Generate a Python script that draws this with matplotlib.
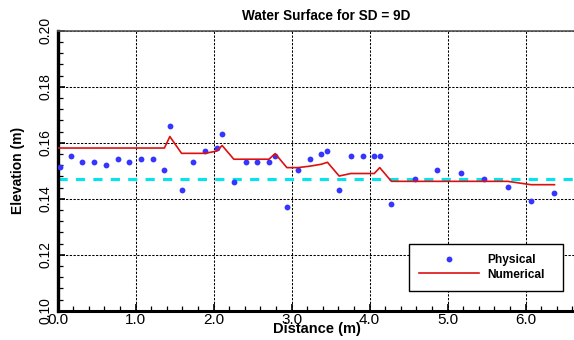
import matplotlib
matplotlib.use("Agg")
import matplotlib.pyplot as plt
from matplotlib.ticker import MultipleLocator, FormatStrFormatter

plt.rcParams['font.family'] = ['Liberation Sans', 'DejaVu Sans']

title = "Water Surface for SD = 9D"
xlabel = "Distance (m)"
ylabel = "Elevation (m)"

phys_x = [0.03, 0.17, 0.32, 0.47, 0.62, 0.77, 0.92, 1.07, 1.22, 1.37, 1.44, 1.59,
          1.74, 1.89, 2.04, 2.11, 2.26, 2.41, 2.56, 2.71, 2.79, 2.94, 3.08, 3.23,
          3.38, 3.46, 3.61, 3.76, 3.91, 4.06, 4.13, 4.28, 4.58, 4.87, 5.17, 5.47,
          5.77, 6.07, 6.37]
phys_y = [0.1512, 0.1551, 0.1532, 0.1532, 0.1521, 0.1541, 0.1532, 0.1541, 0.1541,
          0.1501, 0.1661, 0.1431, 0.1532, 0.1570, 0.1581, 0.1631, 0.1460, 0.1532,
          0.1532, 0.1532, 0.1551, 0.1370, 0.1501, 0.1541, 0.1561, 0.1570, 0.1431,
          0.1551, 0.1551, 0.1551, 0.1551, 0.1380, 0.1470, 0.1501, 0.1491, 0.1470,
          0.1441, 0.1392, 0.1421]

num_x = [0.0, 1.37, 1.44, 1.59, 1.74, 1.89, 2.04, 2.11, 2.26, 2.41, 2.56, 2.71,
         2.79, 2.94, 3.08, 3.23, 3.38, 3.46, 3.61, 3.76, 3.91, 4.06, 4.13, 4.28,
         4.58, 4.87, 5.17, 5.47, 5.77, 6.07, 6.37]
num_y = [0.1581, 0.1581, 0.1622, 0.1562, 0.1562, 0.1562, 0.1570, 0.1590, 0.1541,
         0.1541, 0.1541, 0.1541, 0.1561, 0.1511, 0.1511, 0.1516, 0.1523, 0.1530,
         0.1481, 0.1490, 0.1490, 0.1490, 0.1511, 0.1462, 0.1462, 0.1462, 0.1462,
         0.1462, 0.1462, 0.1450, 0.1450]

ref_level = 0.147

fig = plt.figure(figsize=(5.74, 3.40), dpi=100)
ax = fig.add_axes([57.5 / 574, 1 - 310.7 / 340, 1 - 57.5 / 574, 280 / 340])

ax.set_xlim(0, 6.62)
ax.set_ylim(0.10, 0.20)

ax.axhline(ref_level, color='#00e5ee', lw=2.2, dashes=(3.0, 2.7), zorder=2)
ax.plot(phys_x, phys_y, linestyle='none', marker='o', markersize=4.2,
        color='#3535ff', markeredgewidth=0, label='Physical', zorder=3)
ax.plot(num_x, num_y, color='#dd1010', lw=1.2, label='Numerical', zorder=4)

ax.xaxis.set_major_locator(MultipleLocator(1.0))
ax.xaxis.set_minor_locator(MultipleLocator(0.2))
ax.yaxis.set_major_locator(MultipleLocator(0.02))
ax.yaxis.set_minor_locator(MultipleLocator(0.004))
ax.xaxis.set_major_formatter(FormatStrFormatter('%.1f'))
ax.yaxis.set_major_formatter(FormatStrFormatter('%.2f'))

ax.grid(True, which='major', color='black', lw=0.75, dashes=(2.2, 1.4))
ax.set_axisbelow(True)

ax.tick_params(axis='both', which='both', direction='in', color='black')
ax.tick_params(axis='both', which='major', length=5, width=1.2)
ax.tick_params(axis='both', which='minor', length=3.5, width=0.9)
ax.tick_params(axis='x', which='major', labelsize=11, pad=1.5)
ax.tick_params(axis='y', which='major', labelsize=10, pad=3.5)
for lab in ax.get_yticklabels():
    lab.set_rotation(90)
    lab.set_va('center')

ax.spines['left'].set_linewidth(2.4)
ax.spines['bottom'].set_linewidth(2.2)
ax.spines['top'].set_linewidth(1.2)
ax.spines['top'].set_color('#555555')
ax.spines['right'].set_visible(False)

ax.set_xlabel(xlabel, fontsize=10.5, fontweight='bold', va='center')
ax.xaxis.set_label_coords((317 - 57.5) / 516.5, (310.7 - 329) / 280)
ax.set_ylabel(ylabel, fontsize=10, fontweight='bold', va='center')
ax.yaxis.set_label_coords((18 - 57.5) / 516.5, (310.7 - 170) / 280)

ax.set_title(title, fontsize=9.8, fontweight='bold', x=(326 - 57.5) / 516.5,
             y=(310.7 - 16.5) / 280, va='center', pad=0)

leg = ax.legend(loc='upper left',
                bbox_to_anchor=(409 / 574, 1 - 244 / 340 - 0.01, 154 / 574, 0.01),
                bbox_transform=fig.transFigure, mode='expand',
                numpoints=1, fancybox=False, framealpha=1, edgecolor='black',
                prop={'weight': 'bold', 'size': 8.6}, borderpad=0.85,
                labelspacing=0.2, handlelength=5.0, handletextpad=0.7,
                borderaxespad=0)
leg.get_frame().set_linewidth(1.0)

fig.savefig('out.png', dpi=100)
